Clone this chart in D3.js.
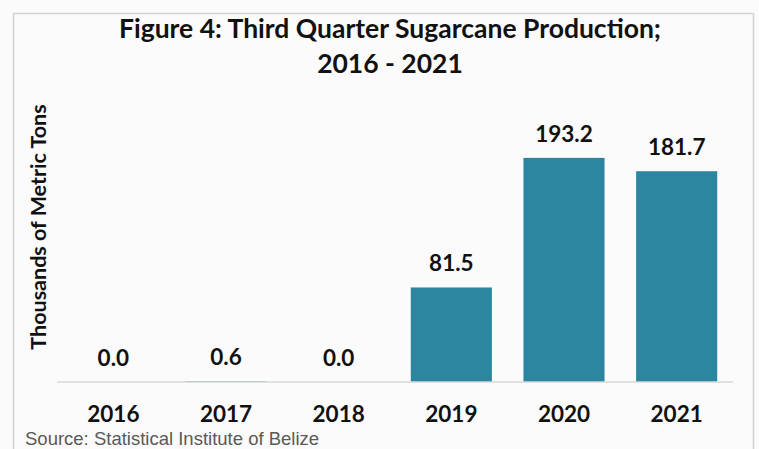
<!DOCTYPE html>
<html>
<head>
<meta charset="utf-8">
<script src="https://cdnjs.cloudflare.com/ajax/libs/d3/7.8.5/d3.min.js"></script>
<style>
  html, body { margin: 0; padding: 0; background: #fbfbfb; }
  svg { display: block; }
</style>
</head>
<body>
<div id="chart"></div>
<script>
const years = ["2016", "2017", "2018", "2019", "2020", "2021"];
const production = [0.0, 0.6, 0.0, 81.5, 193.2, 181.7];
const titleLines = ["Figure 4: Third Quarter Sugarcane Production;", "2016 - 2021"];
const yAxisLabel = "Thousands of Metric Tons";
const sourceText = "Source: Statistical Institute of Belize";

const W = 759, H = 449;
const font = "Lato, 'Open Sans', 'DejaVu Sans', sans-serif";
const svg = d3.select("#chart").append("svg").attr("width", W).attr("height", H);

svg.append("rect").attr("x", 0).attr("y", 0).attr("width", W).attr("height", H).attr("fill", "#fbfbfb");
// chart border
svg.append("rect").attr("x", 13.5).attr("y", 13.5).attr("width", 740).attr("height", 460)
  .attr("fill", "#fbfbfb").attr("stroke", "#d3d3d3").attr("stroke-width", 1.5);

const x = d3.scaleBand().domain(years).range([57, 733]).paddingInner(0.28).paddingOuter(0.14);
const y = d3.scaleLinear().domain([0, 250]).range([382, 92]);

// title
svg.append("g").selectAll("text").data(titleLines).join("text")
  .attr("x", 390).attr("y", (d, i) => 38 + i * 35)
  .attr("text-anchor", "middle")
  .attr("font-family", font).attr("font-weight", 700).attr("font-size", 26.5)
  .attr("fill", "#111").text(d => d);

// bars
svg.append("g").selectAll("rect").data(production).join("rect")
  .attr("x", (d, i) => x(years[i]))
  .attr("y", d => y(d))
  .attr("width", x.bandwidth())
  .attr("height", d => y(0) - y(d))
  .attr("fill", "#2d869f");

// x axis
const xAxis = svg.append("g").attr("transform", `translate(0,${y(0)})`)
  .call(d3.axisBottom(x).tickSize(0).tickSizeOuter(0).offset(0));
xAxis.select(".domain").attr("stroke", "#d9d9d9").attr("stroke-width", 1.6);
xAxis.selectAll("text").attr("y", 40).attr("dy", 0)
  .attr("font-family", font).attr("font-weight", 700).attr("font-size", 22.5).attr("fill", "#111");

// value labels
svg.append("g").selectAll("text").data(production).join("text")
  .attr("x", (d, i) => x(years[i]) + x.bandwidth() / 2)
  .attr("y", d => y(d) - 16)
  .attr("text-anchor", "middle")
  .attr("font-family", font).attr("font-weight", 700).attr("font-size", 22.5)
  .attr("fill", "#111").text(d => d.toFixed(1));

// y axis label
svg.append("text")
  .attr("transform", "translate(46,227) rotate(-90)")
  .attr("text-anchor", "middle")
  .attr("font-family", font).attr("font-weight", 700).attr("font-size", 21.5)
  .attr("fill", "#111").text(yAxisLabel);

// source
svg.append("text").attr("x", 25).attr("y", 445)
  .attr("font-family", "'Liberation Sans', Arial, sans-serif").attr("font-size", 18.5)
  .attr("fill", "#595959").text(sourceText);
</script>
</body>
</html>
